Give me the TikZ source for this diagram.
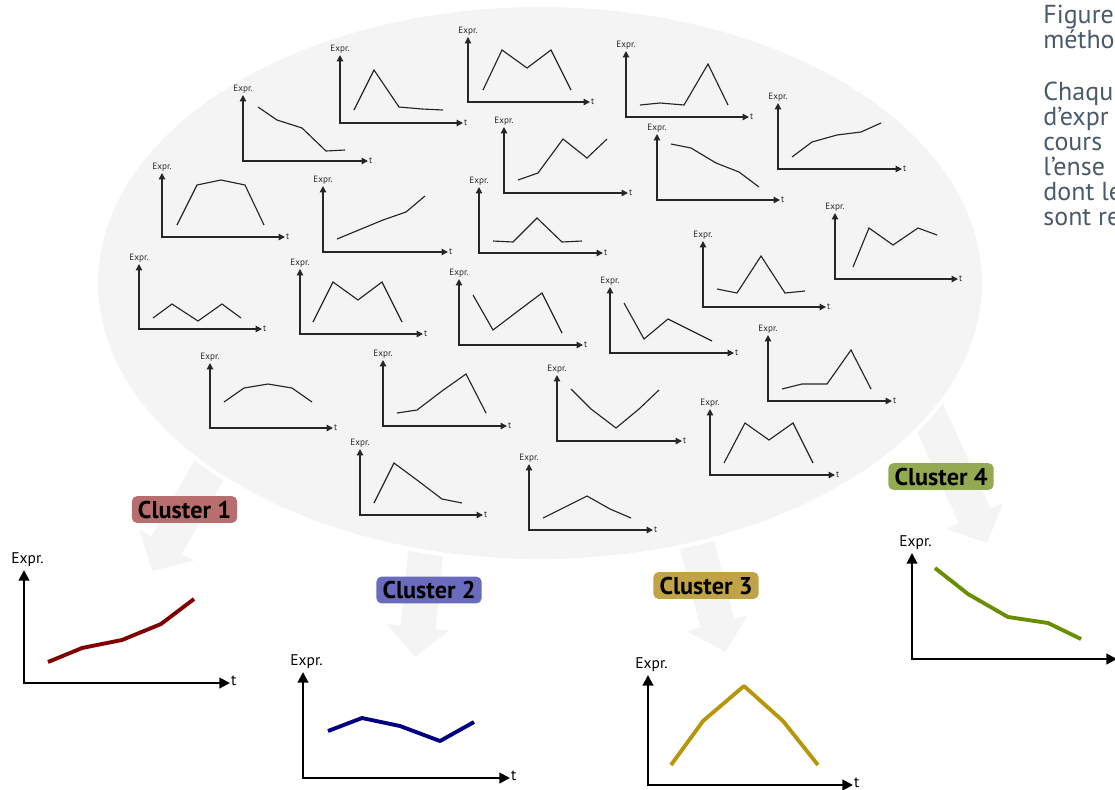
\documentclass[tikz,border=0pt]{standalone}
\usepackage{fontspec}
\setmainfont{PT Sans}
\usetikzlibrary{arrows.meta, calc}
\definecolor{cloudGray}{HTML}{F4F4F4}
\definecolor{inkGray}{HTML}{262626}
\definecolor{noteSlate}{HTML}{4A5A6B}
\definecolor{clOneLine}{HTML}{800000}
\definecolor{clOneTag}{HTML}{B86E6E}
\definecolor{clTwoLine}{HTML}{000080}
\definecolor{clTwoTag}{HTML}{6B6BBD}
\definecolor{clThreeLine}{HTML}{B8960B}
\definecolor{clThreeTag}{HTML}{C0A347}
\definecolor{clFourLine}{HTML}{6B8E00}
\definecolor{clFourTag}{HTML}{94AA52}

\newcommand{\miniplot}[6]{%
  \coordinate (#1-o) at (#2,#3);
  \coordinate (#1-y) at (#2,#4);
  \coordinate (#1-x) at (#5,#3);
  \draw[miniaxis] (#1-y) -- (#1-o) -- (#1-x);
  \node[minilab, anchor=south] (#1-e) at ([yshift=0.5pt]#1-y) {Expr.};
  \node[minilab, anchor=west] (#1-t) at (#1-x) {t};
  \draw[minicurve] plot coordinates {#6};
}
\newcommand{\bigplot}[6]{%
  \coordinate (#1-o) at (#2,#3);
  \coordinate (#1-y) at (#2,#4);
  \coordinate (#1-x) at (#5,#3);
  \draw[bigaxis] (#1-y) -- (#1-o) -- (#1-x);
  \node[biglab, anchor=south] (#1-e) at ([xshift=2pt,yshift=1pt]#1-y) {Expr.};
  \draw[bigcurve] plot coordinates {#6};
}
\newcommand{\blockarrow}[1]{%
  \coordinate (#1-b) at ($(#1-h)!17pt!(#1-s)$);
  \fill[cloudGray] ($(#1-s)!10pt!90:(#1-h)$) -- ($(#1-b)!10pt!90:(#1-h)$)
    -- ($(#1-b)!18pt!90:(#1-h)$) -- (#1-h) -- ($(#1-b)!18pt!-90:(#1-h)$)
    -- ($(#1-b)!10pt!-90:(#1-h)$) -- ($(#1-s)!10pt!-90:(#1-h)$) -- cycle;
}

\begin{document}
\begin{tikzpicture}[
    x=0.02cm, y=-0.02cm,
    miniaxis/.style={draw=inkGray, line width=0.75pt, line join=miter,
                     >={Triangle[length=3.6pt,width=3.6pt]}, <->},
    minicurve/.style={draw=inkGray, line width=0.65pt},
    minilab/.style={inner sep=0.5pt, text=inkGray, font=\fontsize{5.2}{6}\selectfont},
    bigaxis/.style={draw=black, line width=1.15pt, line join=miter,
                    >={Triangle[length=6pt,width=6pt]}, <->},
    bigcurve/.style={line width=2.2pt, line join=round},
    biglab/.style={inner sep=0.5pt, text=black, font=\fontsize{8.8}{10}\selectfont},
    tag/.style={rectangle, rounded corners=3pt, inner xsep=3.5pt, inner ysep=0pt,
                minimum height=15.3pt, text=black, font=\fontsize{13.8}{15}\selectfont\bfseries},
    note/.style={align=left, inner sep=0pt, text=noteSlate,
                 font=\fontsize{14.8}{14.2}\selectfont},
  ]
  \useasboundingbox (0,0) rectangle (1115,789);
  \clip (0,0) rectangle (1115,789);

  \coordinate (a1-s) at (221,449); \coordinate (a1-h) at (152,571);
  \coordinate (a2-s) at (428,530); \coordinate (a2-h) at (415,657);
  \coordinate (a3-s) at (692,526); \coordinate (a3-h) at (725,652);
  \coordinate (a4-s) at (915,385); \coordinate (a4-h) at (987,543);
  \blockarrow{a1}
  \blockarrow{a2}
  \blockarrow{a3}
  \blockarrow{a4}

  \filldraw[fill=cloudGray, draw=white, line width=2.3pt] (540,283) ellipse [x radius=444, y radius=278];

  \miniplot{p1}{340}{123}{55}{463}{(354,110) (374,70) (399,107) (422,109) (443,110)}
  \miniplot{p2}{468}{102}{37}{590}{(483,90) (502,50) (527,68) (551,50) (571,90)}
  \miniplot{p3}{626}{117}{51}{749}{(640,105) (660,103) (684,105) (708,64) (728,105)}
  \miniplot{p4}{243}{161}{95}{368}{(258,107) (277,120) (302,128) (326,151) (345,150)}
  \miniplot{p5}{504}{193}{127}{628}{(518,180) (538,173) (563,139) (587,158) (607,139)}
  \miniplot{p6}{657}{200}{134}{780}{(671,144) (691,148) (716,163) (739,172) (759,187)}
  \miniplot{p7}{778}{169}{103}{902}{(792,157) (812,142) (837,135) (861,132) (881,123)}
  \miniplot{p8}{162}{237}{173}{285}{(177,225) (197,185) (221,180) (245,185) (264,225)}
  \miniplot{p9}{323}{252}{186}{448}{(337,239) (383,220) (406,212) (425,196)}
  \miniplot{p10}{479}{253}{187}{603}{(493,241) (513,242) (537,218) (562,242) (582,241)}
  \miniplot{p11}{835}{279}{213}{958}{(853,267) (869,228) (893,245) (918,228) (937,235)}
  \miniplot{p12}{703}{307}{241}{826}{(717,289) (737,293) (761,256) (785,293) (805,291)}
  \miniplot{p13}{139}{329}{264}{262}{(153,318) (172,304) (198,321) (222,304) (241,318)}
  \miniplot{p14}{300}{334}{269}{423}{(313,322) (333,282) (358,300) (382,282) (402,322)}
  \miniplot{p15}{459}{345}{279}{583}{(473,295) (493,330) (518,311) (542,293) (562,333)}
  \miniplot{p16}{610}{353}{287}{734}{(624,303) (644,339) (668,319) (712,341)}
  \miniplot{p17}{768}{401}{335}{892}{(782,389) (802,384) (827,384) (851,350) (871,389)}
  \miniplot{p18}{210}{428}{363}{333}{(224,402) (244,388) (268,384) (292,388) (312,402)}
  \miniplot{p19}{383}{426}{360}{507}{(397,413) (417,410) (442,391) (466,374) (486,413)}
  \miniplot{p20}{557}{441}{375}{682}{(571,389) (591,409) (616,428) (639,409) (659,390)}
  \miniplot{p21}{710}{475}{409}{835}{(724,463) (745,423) (769,440) (793,423) (813,463)}
  \miniplot{p22}{360}{515}{449}{483}{(374,503) (394,463) (417,480) (442,499) (462,503)}
  \miniplot{p23}{529}{530}{464}{653}{(543,518) (563,508) (587,496) (610,509) (631,518)}

  \node[tag, fill=clOneTag] (c1-tag) at (184.5,509.5) {Cluster 1};
  \node[tag, fill=clTwoTag] (c2-tag) at (429,590) {Cluster 2};
  \node[tag, fill=clThreeTag] (c3-tag) at (706,585.5) {Cluster 3};
  \node[tag, fill=clFourTag] (c4-tag) at (941,476.5) {Cluster 4};

  \begin{scope}[bigcurve/.append style={draw=clOneLine}]
    \bigplot{c1}{24}{683}{570}{230}{(48,662) (82,648) (122,640) (161,624) (194,599)}
  \end{scope}
  \begin{scope}[bigcurve/.append style={draw=clTwoLine}]
    \bigplot{c2}{303}{778}{672}{510}{(328,731) (362,718) (400,726) (440,741) (474,722)}
  \end{scope}
  \begin{scope}[bigcurve/.append style={draw=clThreeLine}]
    \bigplot{c3}{648}{785}{675}{853}{(671,765) (703,721) (744,686) (783,721) (818,765)}
  \end{scope}
  \begin{scope}[bigcurve/.append style={draw=clFourLine}]
    \bigplot{c4}{912}{659}{553}{1117}{(935,568) (968,594) (1008,617) (1048,623) (1081,639)}
  \end{scope}
  \node[biglab, anchor=west] (c1-t) at ([yshift=1pt]c1-x) {t};
  \node[biglab, anchor=west] (c2-t) at ([yshift=1pt]c2-x) {t};
  \node[biglab, anchor=west] (c3-t) at ([yshift=1.5pt]c3-x) {t};

  \node[note, anchor=north west] (note1) at (1043,5) {Figure\\métho};
  \node[note, anchor=north west] (note2) at (1043,82) {Chaqu\\d’expr\\cours\\l’ense\\dont le\\sont re};
\end{tikzpicture}
\end{document}
